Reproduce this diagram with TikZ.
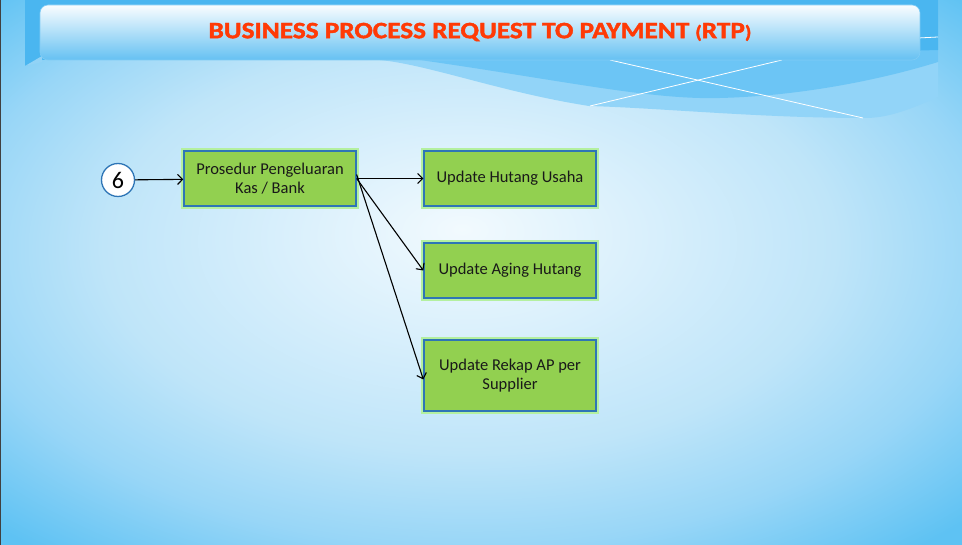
\documentclass[tikz,border=0pt]{standalone}
\usepackage{fontspec}
\setmainfont{Carlito}
\newfontfamily\titlefont{Carlito}[BoldFeatures={FakeBold=1.6}]
\usetikzlibrary{arrows.meta}
\definecolor{bandblue}{HTML}{4AB6F0}
\definecolor{wave1}{HTML}{92D4F8}
\definecolor{wave2}{HTML}{62C1F4}
\definecolor{boxgreen}{HTML}{92D050}
\definecolor{boxblue}{HTML}{2E75B6}
\definecolor{glow}{HTML}{B4F0A0}
\definecolor{titlered}{HTML}{FF3A06}
\definecolor{bgA}{HTML}{F2FAFE}
\definecolor{bgB}{HTML}{DAF0FC}
\definecolor{bgC}{HTML}{BFE5F9}
\definecolor{bgC2}{HTML}{98D6F7}
\definecolor{bgD}{HTML}{5EC2F3}
\pgfdeclareradialshading{bgshade}{\pgfpoint{-1bp}{4bp}}{color(0bp)=(bgA); color(9bp)=(bgB); color(19bp)=(bgC); color(27bp)=(bgC2); color(35bp)=(bgD); color(50bp)=(bgD)}
\tikzset{
  procbox/.style={rectangle, fill=boxgreen, draw=boxblue, line width=1.3pt,
    minimum width=172pt, minimum height=55pt, align=center, inner sep=2pt,
    font=\fontsize{16.5}{19.5}\selectfont, text=black!90,
    preaction={draw=glow, line width=6pt}},
  numcirc/.style={circle, fill=white, draw=boxblue, line width=1.3pt,
    minimum size=33pt, inner sep=0pt, font=\fontsize{24}{24}\selectfont},
  flow/.style={-{Straight Barb[length=5pt,width=10pt]}, line width=1.1pt, black}
}
\begin{document}
\begin{tikzpicture}[x=1pt,y=-1pt]
\useasboundingbox (0,0) rectangle (962,545);
% background
\shade[shading=bgshade] (0,0) rectangle (962,545);
% top band with waves
\fill[wave1] (25,0) -- (938,0) -- (938,97) .. controls (905,112) and (885,118) .. (865,118)
  .. controls (760,118) and (660,108) .. (589,106) .. controls (500,92) and (430,65) .. (380,60)
  -- (42,60) -- (25,66) -- cycle;
\fill[wave2!80!wave1] (420,60) .. controls (560,80) and (650,100) .. (720,98)
  .. controls (800,96) and (880,80) .. (938,62) -- (938,0) -- (420,0) -- cycle;
\fill[bandblue] (25,0) -- (938,0) -- (938,50) -- (600,60) -- (42,60) -- (25,66) -- cycle;
\draw[white, line width=0.8pt] (590,106) -- (782,60);
\draw[white, line width=0.8pt] (610,60) -- (863,118);
\draw[white, line width=0.8pt] (918,38) -- (938,37);
\fill[bandblue!60!white] (25,66) -- (42,56) -- (42,62) -- cycle;
% left border
\draw[black!75, line width=1.2pt] (0.6,0) -- (0.6,545);
% title bar
\shade[rounded corners=8pt, top color=white!97!bandblue, bottom color=bandblue!85!white]
  (40,5) rectangle (920,60);
\draw[rounded corners=8pt, bandblue!70!white, line width=0.6pt] (40,5) rectangle (920,60);
\node[font=\titlefont\bfseries\fontsize{23.5}{25}\selectfont, text=titlered, xscale=1.16] (title) at (480,32)
  {BUSINESS PROCESS REQUEST TO PAYMENT {\fontsize{18}{18}\selectfont(}RTP{\fontsize{18}{18}\selectfont)}};
% nodes
\node[numcirc] (n6) at (118,180) {6};
\node[procbox] (b1) at (270,178.5) {Prosedur Pengeluaran\\Kas / Bank};
\node[procbox] (b2) at (510,178.5) {Update Hutang Usaha};
\node[procbox] (b3) at (510,270.5) {Update Aging Hutang};
\node[procbox, minimum height=71pt] (b4) at (510,375.5) {Update Rekap AP per\\Supplier};
% connectors
\draw[flow] (n6) -- (b1);
\draw[flow] (b1) -- (b2);
\draw[flow] (b1.east) -- (b3.west);
\draw[flow] ([yshift=4pt]b1.east) -- ([yshift=-4pt]b4.west);
\end{tikzpicture}
\end{document}
